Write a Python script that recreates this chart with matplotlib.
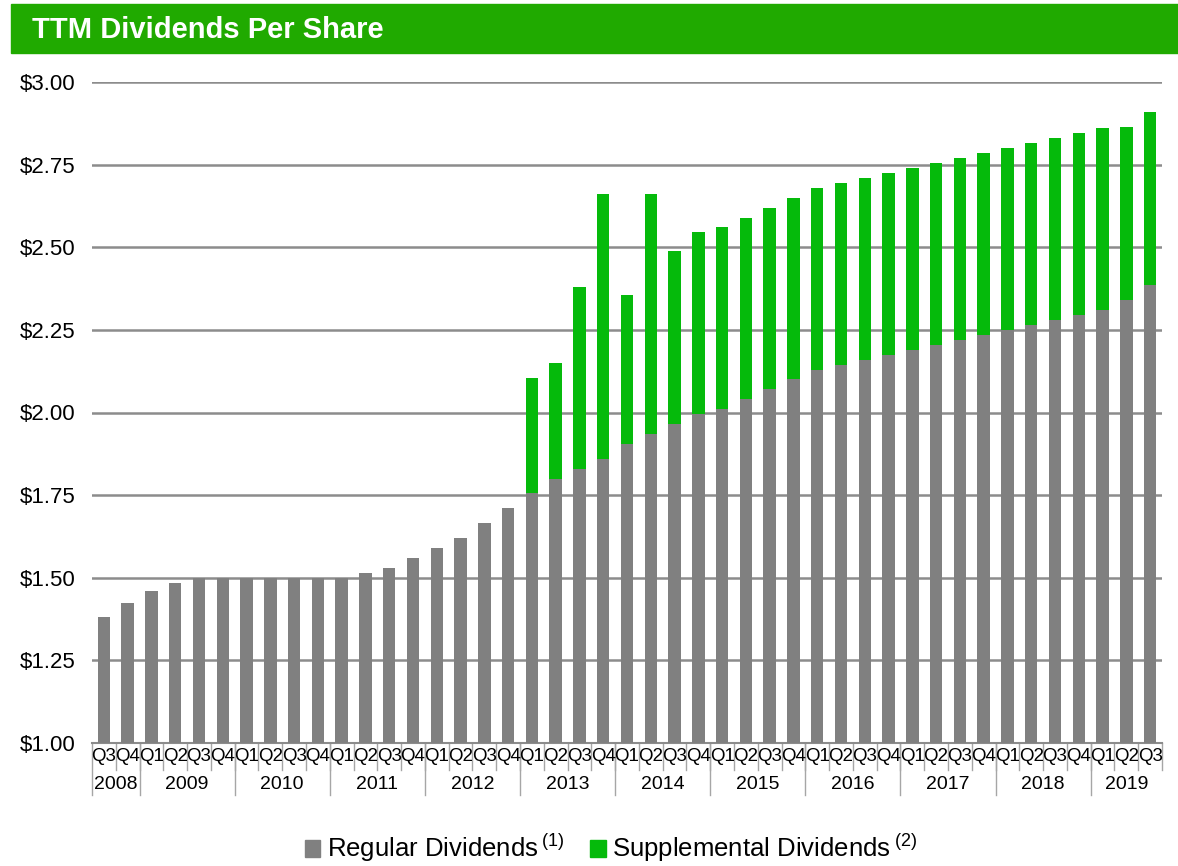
import numpy as np
import matplotlib.pyplot as plt
from matplotlib.patches import Patch, Rectangle

plt.rcParams['font.family'] = ['Liberation Sans', 'DejaVu Sans']
plt.rcParams['mathtext.fontset'] = 'custom'
plt.rcParams['mathtext.rm'] = 'Liberation Sans'

quarters = ['Q3', 'Q4'] + ['Q1', 'Q2', 'Q3', 'Q4'] * 10 + ['Q1', 'Q2', 'Q3']
years = ['2008', '2009', '2010', '2011', '2012', '2013', '2014', '2015',
         '2016', '2017', '2018', '2019']
year_counts = [2] + [4] * 10 + [3]

regular = [1.38, 1.425, 1.46, 1.485, 1.50, 1.50, 1.50, 1.50, 1.50, 1.50,
           1.50, 1.515, 1.53, 1.56, 1.59, 1.62, 1.665, 1.71,
           1.755, 1.80, 1.83, 1.86, 1.905, 1.935, 1.965, 1.995,
           2.01, 2.04, 2.07, 2.10, 2.13, 2.145, 2.16, 2.175,
           2.19, 2.205, 2.22, 2.235, 2.25, 2.265, 2.28, 2.295,
           2.31, 2.34, 2.385]
total = [None] * 18 + [2.105, 2.15, 2.38, 2.66, 2.355, 2.66, 2.49, 2.545,
                       2.56, 2.59, 2.62, 2.65, 2.68, 2.695, 2.71, 2.725,
                       2.74, 2.755, 2.77, 2.785, 2.80, 2.815, 2.83, 2.845,
                       2.86, 2.865, 2.91]
supplemental = [0 if t is None else t - r for t, r in zip(total, regular)]

gray = '#808080'
green = '#05BA0B'
header = '#20AA00'

W, H = 1178, 866
fig = plt.figure(figsize=(W / 100, H / 100), dpi=100)

# header band
fig.patches.append(Rectangle((11 / W, 1 - 53 / H), 1 - 11 / W, 49 / H,
                             transform=fig.transFigure, color=header, zorder=0))
fig.text(32 / W, 1 - 30 / H, 'TTM Dividends Per Share', color='white',
         fontsize=21, fontweight='bold', va='center', ha='left')

ax = fig.add_axes([92 / W, 1 - 743 / H, (1162 - 92) / W, (743 - 82) / H])
x = np.arange(len(regular))
ax.bar(x, regular, width=0.52, color=gray, zorder=3)
ax.bar(x, supplemental, width=0.52, bottom=regular, color=green, zorder=3)

ax.set_xlim(-0.5, len(regular) - 0.5)
ax.set_ylim(1.0, 3.0)
ax.set_yticks(np.arange(1.0, 3.01, 0.25))
ax.set_yticklabels(['${:.2f}'.format(v) for v in np.arange(1.0, 3.01, 0.25)],
                   fontsize=16)
ax.tick_params(axis='y', length=0, pad=12)
ax.grid(axis='y', color='#8c8c8c', linewidth=1.8, zorder=1)
for s in ['top', 'right', 'left']:
    ax.spines[s].set_visible(False)
ax.spines['bottom'].set_color('#8c8c8c')
ax.spines['bottom'].set_linewidth(1.5)

# quarter labels and separators
ax.set_xticks([])
trans = ax.get_xaxis_transform()
for i, q in enumerate(quarters):
    ax.text(i, -0.021, q, transform=trans, ha='center', va='center',
            fontsize=13.5)
for i in range(1, len(quarters) + 1):
    ax.plot([i - 0.5, i - 0.5], [0, -0.041], transform=trans,
            color='#a6a6a6', linewidth=1, clip_on=False)
start = 0
for yr, n in zip(years, year_counts):
    ax.plot([start - 0.5, start - 0.5], [0, -0.079], transform=trans,
            color='#a6a6a6', linewidth=1, clip_on=False)
    ax.text(start + n / 2 - 0.5, -0.063, yr, transform=trans, ha='center',
            va='center', fontsize=14)
    start += n

handles = [Patch(color=gray), Patch(color=green)]
labels = [r'Regular Dividends$\,^{\rm (1)}$',
          r'Supplemental Dividends$\,^{\rm (2)}$']
fig.legend(handles, labels, loc='center', bbox_to_anchor=(611 / W, 1 - 848 / H),
           ncol=2, frameon=False, fontsize=18.5, handlelength=0.6,
           handleheight=0.6, handletextpad=0.25, columnspacing=1.0,
           borderpad=0.1)

fig.savefig('out.png', dpi=100)
